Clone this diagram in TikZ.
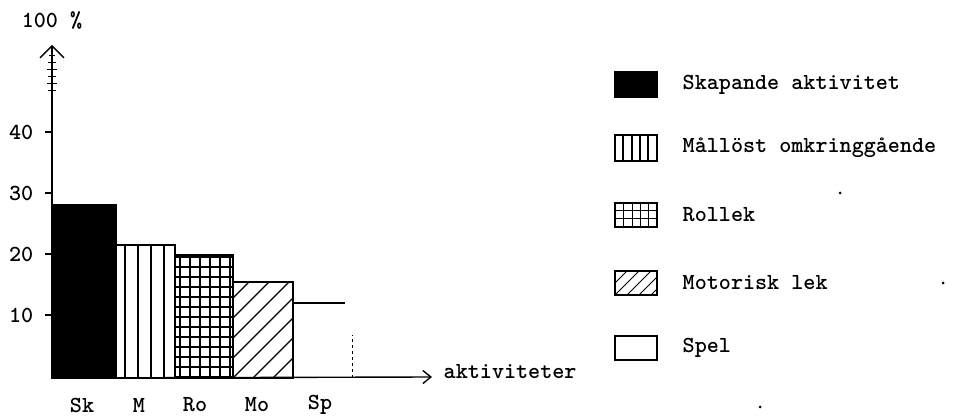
\documentclass[tikz,border=0pt]{standalone}
\usetikzlibrary{arrows.meta}
\begin{document}
\begin{tikzpicture}[x=1pt, y=1pt, line width=1.4pt,
    txt/.style={font=\ttfamily\bfseries\fontsize{23}{25}\selectfont, inner sep=0pt}]
        \useasboundingbox (0,0) rectangle (955,417);

        % axes
        \coordinate (orig) at (52,39);
        \coordinate (ytop) at (52,372);
        \coordinate (xend) at (432,40);
        \draw[-{Straight Barb[length=12pt,width=24pt]}] (orig) -- (ytop);
        \draw[-{Straight Barb[length=8pt,width=13pt]}] (orig) -- (xend);
        \node[txt, anchor=west] (xlab) at (443,45) {aktiviteter};
        \node[txt] (ylab) at (52,397) {100 \%};

        % axis break
        \draw[line width=1pt] (48,326) -- (56,326);
        \draw[line width=1pt] (47,333) -- (57,333);
        \draw[line width=1pt] (48,340) -- (56,340);
        \draw[line width=1pt] (47,347) -- (57,347);
        \draw[line width=1pt] (48,354) -- (56,354);
        \draw[line width=1pt] (49,361) -- (55,361);

        % ticks
        \draw (45,102) -- (52,102);
        \draw (45,163) -- (52,163);
        \draw (45,224) -- (52,224);
        \draw (45,285) -- (52,285);
        \node[txt, anchor=east] (t10) at (34,102) {10};
        \node[txt, anchor=east] (t20) at (34,163) {20};
        \node[txt, anchor=east] (t30) at (34,224) {30};
        \node[txt, anchor=east] (t40) at (34,285) {40};

        % bars
        \filldraw[black] (52,39) rectangle (116,212);
        \draw (116,39) rectangle (175,172);
        \draw (125,39) -- (125,172);
        \draw (138,39) -- (138,172);
        \draw (151,39) -- (151,172);
        \draw (164,39) -- (164,172);
        \draw (175,39) rectangle (233,162);
        \draw[step=10] (175,39) grid (233,162);
        \draw (233,39) rectangle (293,135);
        \begin{scope}
            \clip (233,39) rectangle (293,135);
            \foreach \s in {-100,-80,...,60} {
                \draw (233+\s,39) -- (233+\s+96,135);
            }
        \end{scope}
        \draw (293,114) -- (345,114);
        \draw[dashed, line width=1pt] (352,39) -- (352,82);

        % bar labels
        \node[txt] (lSk) at (82,12) {Sk};
        \node[txt] (lM) at (139,12) {M};
        \node[txt] (lRo) at (195,12) {Ro};
        \node[txt] (lMo) at (257,12) {Mo};
        \node[txt] (lSp) at (320,12) {Sp};

        % legend
        \filldraw[black] (615,320) rectangle (657,345);
        \draw (615,256) rectangle (657,282);
        \draw (623,256) -- (623,282);
        \draw (632,256) -- (632,282);
        \draw (640,256) -- (640,282);
        \draw (648,256) -- (648,282);
        \draw (615,190) rectangle (657,214);
        \draw[line width=1pt] (615,198) -- (657,198);
        \draw[line width=1pt] (615,206) -- (657,206);
        \draw[line width=1pt] (623,190) -- (623,214);
        \draw[line width=1pt] (632,190) -- (632,214);
        \draw[line width=1pt] (640,190) -- (640,214);
        \draw[line width=1pt] (648,190) -- (648,214);
        \draw (615,122) rectangle (657,146);
        \begin{scope}
            \clip (615,122) rectangle (657,146);
            \foreach \s in {-24,-12,...,36} {
                \draw[line width=1pt] (615+\s,122) -- (615+\s+24,146);
            }
        \end{scope}
        \draw (615,57) rectangle (657,81);

        \node[txt, anchor=west] (kSk) at (682,332) {Skapande aktivitet};
        \node[txt, anchor=west] (kM) at (682,269) {Mållöst omkringgående};
        \node[txt, anchor=west] (kRo) at (682,202) {Rollek};
        \node[txt, anchor=west] (kMo) at (682,134) {Motorisk lek};
        \node[txt, anchor=west] (kSp) at (682,69) {Spel};

        % stray dots
        \fill (840,224) circle (1.5);
        \fill (943,134) circle (1.5);
        \fill (760,10) circle (1.5);
    \end{tikzpicture}
\end{document}
